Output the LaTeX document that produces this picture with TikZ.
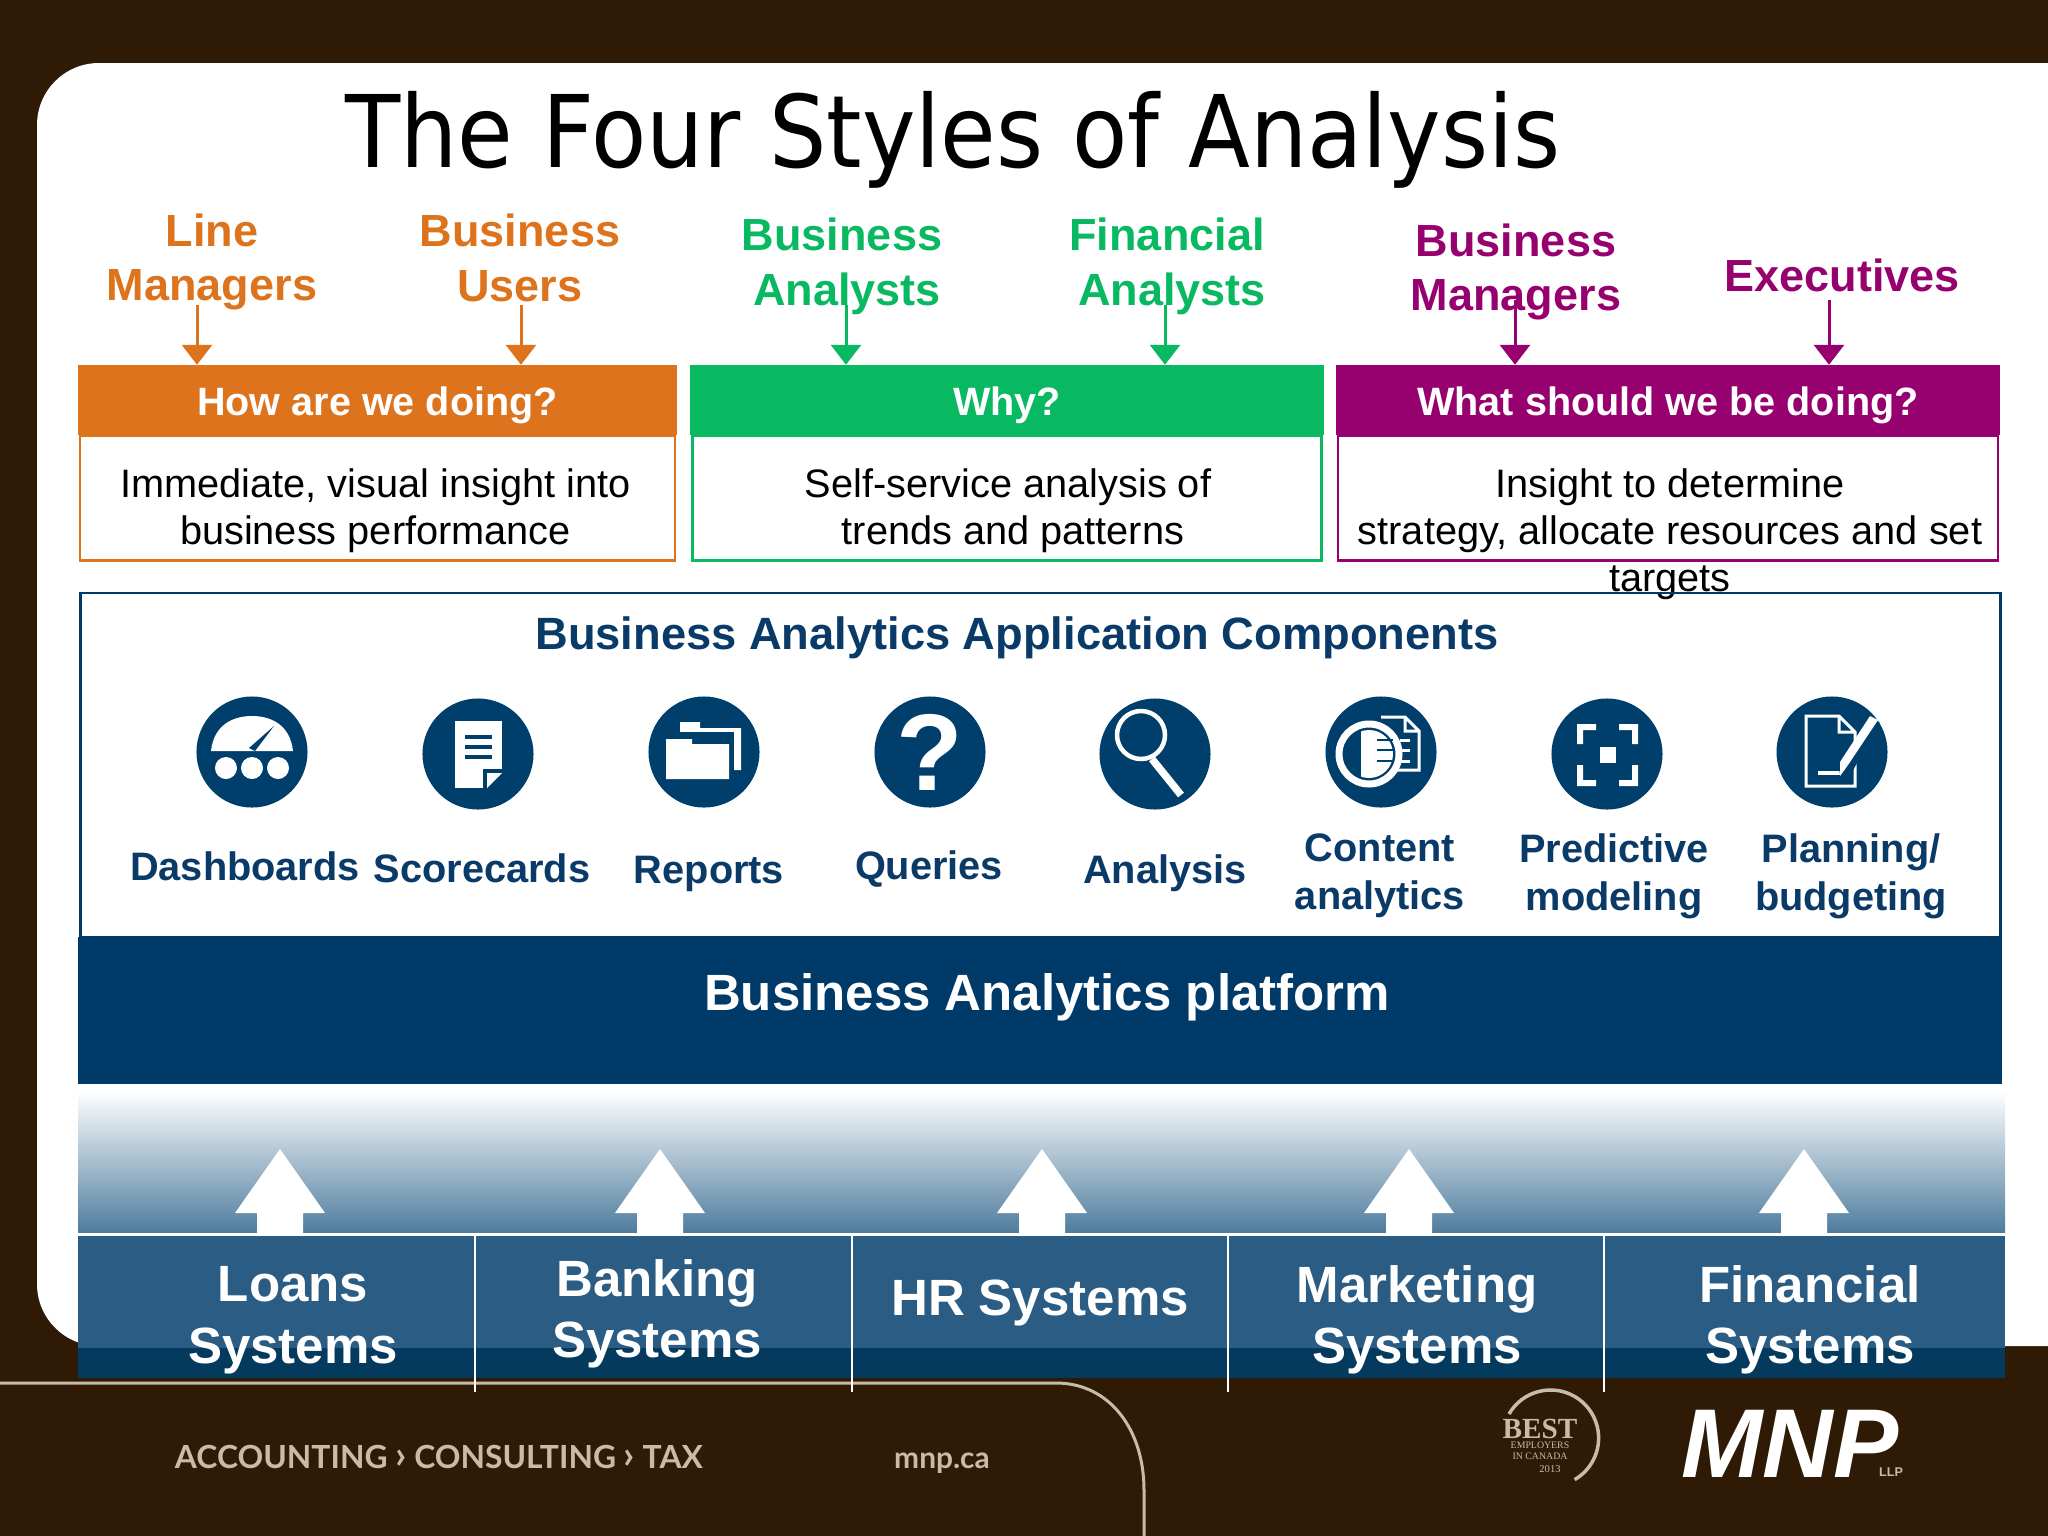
\documentclass[tikz,border=0pt]{standalone}
\usepackage{fontspec}
\setmainfont{Liberation Sans}
\newfontfamily\titlefont{DejaVu Sans}
\newfontfamily\badgefont{Liberation Serif}
\newfontfamily\footfont{Lato}
\usetikzlibrary{positioning,arrows.meta}
\definecolor{slidebrown}{HTML}{2F1B05}
\definecolor{footline}{HTML}{C9BBA6}
\definecolor{lineorange}{HTML}{DD731C}
\definecolor{linegreen}{HTML}{08B961}
\definecolor{linepurple}{HTML}{96006F}
\definecolor{appnavy}{HTML}{0A3A68}
\definecolor{iconnavy}{HTML}{003F6B}
\definecolor{platnavy}{HTML}{003A68}
\definecolor{sysblue}{HTML}{2A5C84}
\definecolor{sysdark}{HTML}{053A5F}
\definecolor{fadeblue}{HTML}{4D7B9D}
\definecolor{fademid}{HTML}{97B0C4}

\begin{document}
\begin{tikzpicture}[
			x=.01cm,y=-.01cm,
			aud/.style={inner sep=0pt,align=center,font=\fontsize{12.8}{15.6}\selectfont\bfseries},
			audarrow/.style={line width=.03cm,-{Triangle[width=.3cm,length=.2cm]}},
			head/.style={inner sep=0pt,minimum height=.69cm,text height=.36cm,text depth=.05cm,text=white,font=\fontsize{11.25}{13}\selectfont\bfseries},
			body/.style={draw,line width=.025cm,inner sep=0pt,minimum height=1.25cm},
			bodytext/.style={inner sep=0pt,align=center,font=\fontsize{11.3}{13.4}\selectfont},
			icon/.style={circle,fill=iconnavy,inner sep=0pt,minimum size=1.11cm},
			iconlbl/.style={inner sep=0pt,align=center,text=appnavy,font=\fontsize{11.3}{13.7}\selectfont\bfseries},
			sys/.style={inner sep=0pt,align=center,text=white,font=\fontsize{14.5}{17.5}\selectfont\bfseries},
			foot/.style={inner sep=0pt,text=footline}]
			\useasboundingbox (0,0) rectangle (2048,1536);
			\fill[slidebrown] (0,0) rectangle (2048,1536);
			\fill[white,rounded corners=.62cm] (37,63) rectangle (2150,1346);

			\node (title) [inner sep=0pt,xscale=.902,transform shape,font=\titlefont\fontsize{28.5}{30}\selectfont] at (953,140) {The Four Styles of Analysis};

			\node (lmgr) [aud,text=lineorange] at (212,262) {Line\\Managers};
			\node (busr) [aud,text=lineorange] at (520,258) {Business\\Users};
			\node (banl) [aud,text=linegreen] at (842,266) {Business\\\hspace*{.1cm}Analysts};
			\node (fanl) [aud,text=linegreen] at (1167,266) {Financial\\\hspace*{.1cm}Analysts};
			\node (bmgr) [aud,text=linepurple] at (1516,272) {Business\\Managers};
			\node (exec) [aud,text=linepurple] at (1842,275) {Executives};

			\node (howhead) [head,fill=lineorange,minimum width=5.99cm] at (377.5,400) {How are we doing?};
			\node (howbody) [body,draw=lineorange,minimum width=5.95cm,below=-.01cm of howhead] {};
			\node (howtext) [bodytext,below=.33cm of howhead,xshift=-.02cm] {Immediate, visual insight into\\business performance};
			\node (whyhead) [head,fill=linegreen,minimum width=6.33cm] at (1007,400) {Why?};
			\node (whybody) [body,draw=linegreen,minimum width=6.29cm,below=-.01cm of whyhead] {};
			\node (whytext) [bodytext,below=.33cm of whyhead,xshift=.01cm] {Self-service analysis of\\\hspace*{.1cm}trends and patterns};
			\node (whathead) [head,fill=linepurple,minimum width=6.64cm] at (1668,400) {What should we be doing?};
			\node (whatbody) [body,draw=linepurple,minimum width=6.6cm,below=-.01cm of whathead] {};
			\node (whattext) [bodytext,below=.33cm of whathead,xshift=.02cm] {Insight to determine\\strategy, allocate resources and set\\targets};

			\coordinate (lmtail) at (197,305);
			\coordinate (butail) at (521,305);
			\coordinate (batail) at (846,305);
			\coordinate (fatail) at (1165,305);
			\coordinate (bmtail) at (1515,300);
			\coordinate (extail) at (1829,300);
			\draw[audarrow,lineorange] (lmtail) -- (lmtail |- howhead.north);
			\draw[audarrow,lineorange] (butail) -- (butail |- howhead.north);
			\draw[audarrow,linegreen] (batail) -- (batail |- whyhead.north);
			\draw[audarrow,linegreen] (fatail) -- (fatail |- whyhead.north);
			\draw[audarrow,linepurple] (bmtail) -- (bmtail |- whathead.north);
			\draw[audarrow,linepurple] (extail) -- (extail |- whathead.north);

			\node (appframe) [draw=platnavy,line width=.025cm,inner sep=0pt,minimum width=19.19cm,minimum height=3.44cm] at (1040.5,765) {};
			\node (apptitle) [inner sep=0pt,text=appnavy,font=\fontsize{12.87}{15}\selectfont\bfseries] at (1017,638) {Business Analytics Application Components};

			\node (dash) [icon] at (252,752) {};
			\node (score) [icon] at (478,754) {};
			\node (report) [icon] at (704,752) {};
			\node (query) [icon,text=white,font=\fontsize{31}{32}\selectfont\bfseries] at (930,752) {?};
			\node (analy) [icon] at (1155,754) {};
			\node (content) [icon] at (1381,752) {};
			\node (predict) [icon] at (1607,754) {};
			\node (plan) [icon] at (1832,752) {};

			\begin{scope}[shift={(dash.center)}]
				\fill[white] (-41,-1) .. controls (-38,-28) and (-18,-36) .. (0,-36) .. controls (18,-36) and (38,-28) .. (41,-1) -- cycle;
				\fill[iconnavy] (-3,-4) -- (22,-26) -- (3,-1) -- cycle;
				\fill[white] (-26,16) circle[radius=11] (0,16) circle[radius=11] (26,16) circle[radius=11];
			\end{scope}
			\begin{scope}[shift={(score.center)}]
				\fill[white] (-23,-33) rectangle (24,34);
				\draw[iconnavy,line width=.04cm] (-13,-17) -- (14,-17) (-13,-7) -- (14,-7) (-13,3) -- (14,3);
				\fill[iconnavy] (5,15) rectangle (25,35);
				\fill[white] (9,19) -- (24,19) -- (9,34) -- cycle;
			\end{scope}
			\begin{scope}[shift={(report.center)}]
				\fill[white] (-24,-30) -- (-4,-30) -- (-4,-24) -- (37,-24) -- (37,18) -- (-24,18) -- cycle;
				\fill[iconnavy] (-42,-20) rectangle (30,32);
				\fill[iconnavy] (-28,-14) rectangle (30,-8);
				\fill[white] (-38,-13) -- (-12,-13) -- (-12,-8) -- (25,-8) -- (25,27) -- (-38,27) -- cycle;
			\end{scope}
			\begin{scope}[shift={(analy.center)}]
				\draw[white,line width=.045cm] (-14,-19) circle[radius=24];
				\draw[white,line width=.075cm] (-3,5) -- (26,41);
			\end{scope}
			\begin{scope}[shift={(content.center)}]
				\draw[white,line width=.03cm] (0,-35) -- (24,-35) -- (38,-21) -- (38,18) -- (0,18) (24,-35) -- (24,-21) -- (38,-21);
				\draw[white,line width=.03cm] (19,-12) -- (29,-12) (19,-2) -- (29,-2) (19,9) -- (29,9);
				\draw[white,line width=.07cm,fill=iconnavy] (-12,2) circle[radius=30];
				\begin{scope}
					\clip (-20,-40) rectangle (30,40);
					\fill[white] (-12,2) circle[radius=24];
				\end{scope}
				\draw[iconnavy,line width=.025cm] (-4,-12) -- (12,-12) (-4,-2) -- (12,-2) (-4,9) -- (12,9);
			\end{scope}
			\begin{scope}[shift={(predict.center)}]
				\fill[white] (-30,-30) -- (-11,-30) -- (-11,-24) -- (-24,-24) -- (-24,-10) -- (-30,-10) -- cycle;
				\fill[white] (31,-30) -- (12,-30) -- (12,-24) -- (25,-24) -- (25,-10) -- (31,-10) -- cycle;
				\fill[white] (-30,32) -- (-11,32) -- (-11,26) -- (-24,26) -- (-24,11) -- (-30,11) -- cycle;
				\fill[white] (31,32) -- (12,32) -- (12,26) -- (25,26) -- (25,11) -- (31,11) -- cycle;
				\fill[white] (-7,-7) rectangle (9,9);
			\end{scope}
			\begin{scope}[shift={(plan.center)}]
				\draw[white,line width=.03cm] (-26,-36) -- (7,-36) -- (23,-20) -- (23,34) -- (-26,34) -- cycle (7,-36) -- (7,-20) -- (23,-20);
				\draw[white,line width=.035cm] (-14,21) -- (9,21);
				\draw[iconnavy,line width=.11cm] (43,-32) -- (12,23);
				\fill[white] (38,-36) -- (46,-32) -- (16,13) -- (8,24) -- (8,10) -- cycle;
			\end{scope}

			\node (dashlbl) [iconlbl] at (245,866) {Dashboards};
			\node (scorelbl) [iconlbl] at (482,868) {Scorecards};
			\node (reportlbl) [iconlbl] at (709,874) {Reports};
			\node (querylbl) [iconlbl] at (929,869) {Queries};
			\node (analylbl) [iconlbl] at (1165,873) {Analysis};
			\node (contentlbl) [iconlbl] at (1380,876) {Content\\analytics};
			\node (predictlbl) [iconlbl] at (1614,876) {Predictive\\modeling};
			\node (planlbl) [iconlbl] at (1851,876) {Planning/\\budgeting};

			\node (platform) [fill=platnavy,inner sep=0pt,minimum width=19.22cm,minimum height=1.47cm] at (1040,1010.5) {};
			\node (platlbl) [inner sep=0pt,text=white,font=\fontsize{14.5}{16}\selectfont\bfseries] at (1047,997) {Business Analytics platform};

			\shade[top color=white,middle color=fademid,bottom color=fadeblue] (78,1091) rectangle (2005,1234);
			\foreach \x in {280,660,1042,1409,1804}
				\fill[white] (\x,1149) -- (\x+45,1213) -- (\x+23,1213) -- (\x+23,1236) -- (\x-23,1236) -- (\x-23,1213) -- (\x-45,1213) -- cycle;
			\draw[white,line width=.03cm] (78,1234.5) -- (2005,1234.5);
			\fill[sysblue] (78,1236) rectangle (2005,1348);
			\fill[sysdark] (78,1348) rectangle (2005,1378);
			\draw[footline,line width=.03cm] (0,1383) -- (1056,1383) .. controls (1110,1383) and (1144,1430) .. (1144,1490) -- (1144,1536);

			\coordinate (div1) at (475,1236);
			\coordinate (div2) at (852,1236);
			\coordinate (div3) at (1228,1236);
			\coordinate (div4) at (1604,1236);
			\draw[white,line width=.02cm] (div1) -- ++(0,156);
			\draw[white,line width=.02cm] (div2) -- ++(0,156);
			\draw[white,line width=.02cm] (div3) -- ++(0,156);
			\draw[white,line width=.02cm] (div4) -- ++(0,156);

			\node (loans) [sys] at (293,1320) {Loans\\Systems};
			\node (banking) [sys] at (657,1314) {Banking\\Systems};
			\node (hr) [sys] at (1040,1303) {HR Systems};
			\node (mkt) [sys] at (1417,1320) {Marketing\\Systems};
			\node (fin) [sys] at (1810,1320) {Financial\\Systems};

			\node (services) [foot,font=\footfont\fontsize{9.05}{10}\selectfont\bfseries] at (439,1457) {ACCOUNTING {\fontsize{11}{11}\selectfont›} CONSULTING {\fontsize{11}{11}\selectfont›} TAX};
			\node (site) [foot,font=\footfont\fontsize{8.5}{9}\selectfont\bfseries] at (942,1463) {mnp.ca};
			\draw[footline,line width=.035cm] (1509,1414) arc[start angle=150,end angle=-60,radius=.48cm];
			\node (best) [foot,font=\badgefont\fontsize{8.3}{9}\selectfont\bfseries] at (1540,1429) {BEST};
			\node (bestsub) [foot,align=center,font=\badgefont\fontsize{2.8}{3.1}\selectfont] at (1540,1451) {EMPLOYERS\\IN CANADA};
			\node (bestyear) [foot,font=\badgefont\fontsize{3}{4}\selectfont] at (1550,1469) {2013};
			\node (mnp) [inner sep=0pt,text=white,font=\fontsize{27.8}{28}\selectfont\bfseries\itshape] at (1790,1444) {MNP};
			\node (llp) [foot,font=\fontsize{3.6}{4}\selectfont\bfseries] at (1891,1472) {LLP};
		\end{tikzpicture}
\end{document}
